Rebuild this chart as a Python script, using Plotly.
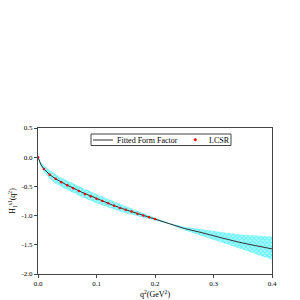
import plotly.graph_objects as go

# Fitted form factor curve
q2_fit = [0, 0.0025, 0.005, 0.01, 0.02, 0.03, 0.04, 0.05, 0.075, 0.1, 0.125, 0.15,
          0.175, 0.2, 0.225, 0.25, 0.275, 0.3, 0.325, 0.35, 0.375, 0.4]
h_fit = [0, -0.08, -0.13, -0.2, -0.3, -0.37, -0.43, -0.48, -0.6, -0.71, -0.81, -0.9,
         -0.98, -1.06, -1.14, -1.22, -1.28, -1.35, -1.41, -1.47, -1.52, -1.57]
h_upper = [0, -0.05, -0.08, -0.14, -0.22, -0.29, -0.35, -0.4, -0.52, -0.63, -0.74, -0.84,
           -0.94, -1.03, -1.13, -1.19, -1.23, -1.27, -1.3, -1.33, -1.35, -1.36]
h_lower = [0, -0.1, -0.17, -0.25, -0.37, -0.45, -0.51, -0.56, -0.68, -0.79, -0.88, -0.96,
           -1.02, -1.09, -1.15, -1.25, -1.33, -1.42, -1.5, -1.58, -1.67, -1.75]

# LCSR points
q2_lcsr = [0, 0.01, 0.02, 0.03, 0.04, 0.05, 0.06, 0.07, 0.08, 0.09, 0.1,
           0.11, 0.12, 0.13, 0.14, 0.15, 0.16, 0.17, 0.18, 0.19, 0.2]
h_lcsr = [0, -0.2, -0.3, -0.37, -0.43, -0.48, -0.53, -0.58, -0.63, -0.67, -0.71,
          -0.75, -0.79, -0.83, -0.87, -0.9, -0.93, -0.97, -1.0, -1.03, -1.06]

x_ticks = [0.0, 0.1, 0.2, 0.3, 0.4]
x_ticklabels = ["0.0", "0.1", "0.2", "0.3", "0.4"]
y_ticks = [0.5, 0.0, -0.5, -1.0, -1.5, -2.0]
y_ticklabels = ["0.5", "0.0", "-0.5", "-1.0", "-1.5", "-2.0"]

legend_labels = ["Fitted Form Factor", "LCSR"]

SERIF = "Liberation Serif"
fig = go.Figure()
fig.add_trace(go.Scatter(x=q2_fit, y=h_upper, mode="lines", line=dict(width=0),
                         showlegend=False, hoverinfo="skip"))
fig.add_trace(go.Scatter(x=q2_fit, y=h_lower, mode="lines", line=dict(width=0),
                         fill="tonexty", fillcolor="rgba(0,235,245,0.55)",
                         fillpattern=dict(shape="x", fgcolor="rgb(0,230,240)",
                                          bgcolor="rgba(180,250,252,1)", size=3, solidity=0.5),
                         showlegend=False, hoverinfo="skip"))
fig.add_trace(go.Scatter(x=q2_fit, y=h_fit, mode="lines", name=legend_labels[0],
                         line=dict(color="#333333", width=1), showlegend=False))
fig.add_trace(go.Scatter(x=q2_lcsr, y=h_lcsr, mode="markers", name=legend_labels[1],
                         marker=dict(color="red", size=2.5), showlegend=False))

axis_common = dict(showgrid=False, zeroline=False, showline=True, linecolor="#444444",
                   linewidth=1, mirror=True, ticks="outside", ticklen=3, tickcolor="#444444",
                   tickfont=dict(family=SERIF, size=7, color="black"))

# manual compact legend (paper coordinates)
L, R, B, T = 38, 272, 274, 128
def px(xp):
    return (xp - L) / (R - L)
def py(yp):
    return (B - yp) / (B - T)

shapes = [
    dict(type="rect", xref="paper", yref="paper", x0=px(91), x1=px(231), y0=py(145.5), y1=py(134),
         line=dict(color="#444444", width=1), fillcolor="white", layer="above"),
    dict(type="line", xref="paper", yref="paper", x0=px(93), x1=px(113), y0=py(140), y1=py(140),
         line=dict(color="#333333", width=1), layer="above"),
    dict(type="circle", xref="paper", yref="paper", x0=px(194), x1=px(196.5), y0=py(141), y1=py(138.5),
         line=dict(color="red", width=0.5), fillcolor="red", layer="above"),
]
annotations = [
    dict(text=legend_labels[0], xref="paper", yref="paper", x=px(115), y=py(140), xanchor="left",
         yanchor="middle", showarrow=False, font=dict(family=SERIF, size=8, color="black")),
    dict(text=legend_labels[1], xref="paper", yref="paper", x=px(207), y=py(140), xanchor="left",
         yanchor="middle", showarrow=False, font=dict(family=SERIF, size=8, color="black")),
    dict(text="q<sup>2</sup>(GeV<sup>2</sup>)", xref="paper", yref="paper", x=0.5, y=py(294),
         xanchor="center", yanchor="middle", showarrow=False,
         font=dict(family=SERIF, size=8, color="black")),
]

fig.update_layout(
    width=300, height=300,
    margin=dict(l=L, r=300 - R, t=T, b=300 - B, autoexpand=False),
    paper_bgcolor="white", plot_bgcolor="white",
    font=dict(family=SERIF, color="black"),
    showlegend=False,
    xaxis=dict(range=[0, 0.4], tickvals=x_ticks, ticktext=x_ticklabels, **axis_common),
    yaxis=dict(range=[-2.0, 0.5], tickvals=y_ticks, ticktext=y_ticklabels,
               title=dict(text="H<sub>1</sub><sup>s1</sup>(q<sup>2</sup>)", standoff=4,
                          font=dict(size=8, family=SERIF)),
               **axis_common),
    shapes=shapes,
    annotations=annotations,
)

fig.write_html("out.html", config={"displayModeBar": False},
               post_script="document.body.style.margin='0';document.body.style.overflow='hidden';")
